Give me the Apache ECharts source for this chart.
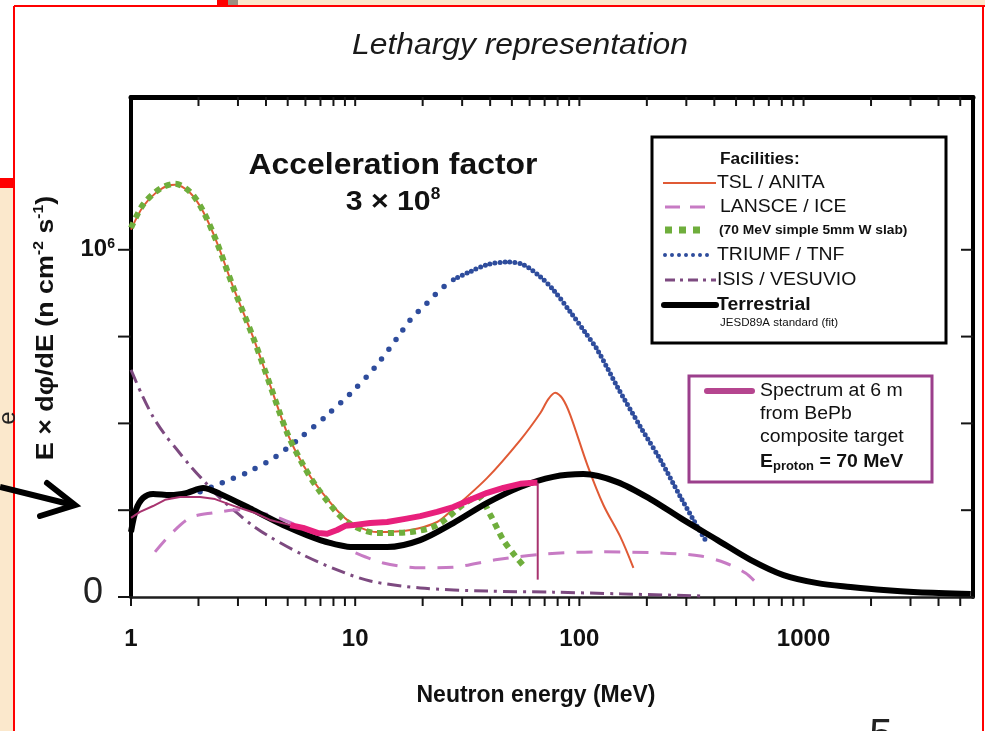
<!DOCTYPE html>
<html>
<head>
<meta charset="utf-8">
<script src="https://cdn.jsdelivr.net/npm/echarts@6/dist/echarts.min.js"></script>
<style>
  html, body { margin: 0; padding: 0; background: #ffffff; }
  #chart { width: 985px; height: 731px; }
</style>
</head>
<body>
<div id="chart"></div>
<script>
// Neutron spectra in lethargy representation: E × dφ/dE (units of 10^6 n cm^-2 s^-1) vs neutron energy (MeV)

const X_MIN = 1, X_MAX = 5700;
const Y_MIN = 0, Y_MAX = 1.44;

const xTickLabels = [1, 10, 100, 1000];
const yTickValues = [0, 0.25, 0.5, 0.75, 1];

// [energy MeV, flux ×10^6]
const tslAnita = [
  [1.0, 1.058], [1.131, 1.124], [1.347, 1.173], [1.572, 1.187], [1.834, 1.164], [2.096, 1.110],
  [2.42, 1.020], [2.854, 0.893], [3.50, 0.749], [4.17, 0.611], [4.97, 0.473], [5.86, 0.380],
  [6.98, 0.308], [9.21, 0.222], [12.54, 0.187], [17.6, 0.193], [23.2, 0.216], [27.4, 0.254],
  [38.8, 0.343], [54.5, 0.452], [67.0, 0.530], [72.7, 0.570], [78.1, 0.588], [84.0, 0.572],
  [91.1, 0.524], [108.6, 0.380], [128, 0.265], [152.4, 0.173], [174.2, 0.084]
];

const wSlab = [
  [1.0, 1.063], [1.131, 1.130], [1.347, 1.176], [1.572, 1.190], [1.834, 1.167], [2.096, 1.112],
  [2.42, 1.020], [2.854, 0.893], [3.50, 0.749], [4.17, 0.611], [4.97, 0.473], [5.86, 0.380],
  [6.98, 0.303], [9.21, 0.216], [12.54, 0.184], [17.6, 0.187], [23.2, 0.207], [30.98, 0.271],
  [35.4, 0.288], [40.1, 0.236], [45.8, 0.164], [51.8, 0.118], [57.4, 0.084]
];

const triumfLow = [
  [2.033, 0.303], [2.549, 0.329], [3.33, 0.360], [4.39, 0.403], [5.68, 0.458], [7.50, 0.524],
  [9.70, 0.591], [12.29, 0.663], [15.40, 0.746], [17.6, 0.798], [20.96, 0.847], [23.96, 0.885],
  [27.4, 0.914]
];
const triumfHigh = [
  [27.4, 0.914], [32.6, 0.937], [38.8, 0.957], [47.7, 0.965], [56.2, 0.957], [67.0, 0.922],
  [76.5, 0.885], [91.1, 0.821], [106.4, 0.761], [120.3, 0.712], [147.8, 0.605], [187.2, 0.490],
  [229.9, 0.395], [282.5, 0.288], [336.4, 0.202], [365.2, 0.164]
];

const lansceIce = [
  [1.280, 0.130], [1.493, 0.179], [1.834, 0.228], [2.299, 0.242], [3.066, 0.251], [4.17, 0.236],
  [5.68, 0.202], [7.73, 0.161], [9.80, 0.130], [13.34, 0.098], [19.51, 0.084], [27.4, 0.086],
  [42.2, 0.107], [70.5, 0.124], [124.1, 0.130], [229.9, 0.127], [346.9, 0.118], [448.6, 0.098],
  [550.8, 0.069], [610.6, 0.043]
];

const isisVesuvio = [
  [1.0, 0.654], [1.120, 0.582], [1.254, 0.519], [1.418, 0.467], [1.605, 0.424], [1.834, 0.378],
  [2.096, 0.337], [2.496, 0.285], [2.973, 0.242], [3.50, 0.205], [4.17, 0.173], [5.86, 0.121],
  [8.31, 0.078], [11.67, 0.046], [19.51, 0.026], [38.8, 0.017], [76.5, 0.014], [152.4, 0.009],
  [346.9, 0.003]
];

const terrestrial = [
  [1.0, 0.187], [1.053, 0.251], [1.131, 0.285], [1.254, 0.297], [1.493, 0.294], [1.778, 0.300],
  [2.096, 0.314], [2.496, 0.297], [3.50, 0.251], [4.97, 0.202], [6.98, 0.164], [9.80, 0.144],
  [13.89, 0.144], [19.51, 0.164], [27.4, 0.213], [38.8, 0.271], [54.5, 0.317], [76.5, 0.346],
  [104.2, 0.354], [147.8, 0.331], [207.5, 0.282], [291.3, 0.222], [413.2, 0.164], [580.0, 0.107],
  [814.3, 0.063], [1154.8, 0.040], [1621, 0.029], [2275, 0.020], [3228, 0.014], [5566, 0.009]
];

const bepbLow = [
  [1.0, 0.228], [1.097, 0.245], [1.254, 0.262], [1.418, 0.280], [1.654, 0.288], [2.033, 0.288],
  [2.371, 0.282], [2.973, 0.259], [3.58, 0.242], [4.17, 0.222], [5.13, 0.207]
];
const bepbHigh = [
  [5.13, 0.207], [5.86, 0.199], [6.84, 0.184], [7.50, 0.182], [8.31, 0.193], [9.03, 0.205],
  [9.80, 0.207], [11.67, 0.213], [13.89, 0.216], [16.72, 0.225], [19.51, 0.233], [23.2, 0.245],
  [27.4, 0.259], [32.6, 0.280], [38.8, 0.300], [45.8, 0.314], [54.5, 0.326], [62.3, 0.329],
  [65.0, 0.329]
];
const bepbCutoff = [[65.2, 0.329], [65.2, 0.05]];

const FONT = "'Liberation Sans', Arial, Helvetica, sans-serif";
const C = {
  tsl: '#e05a35', slab: '#6fae3c', triumf: '#2e4c9c', lansce: '#c77bc4',
  isis: '#7d4a80', terr: '#000000', bepbDark: '#a8336f', bepb: '#e8207c', bepbBox: '#9b3f8c'
};

// tick positions: 1..9 per decade on the log axis, quarter steps on the flux axis
const xTickPos = [];
[1, 10, 100, 1000].forEach(d => { for (let k = 1; k <= 9; k++) { if (k * d <= X_MAX) xTickPos.push(k * d); } });
const tickData = xTickPos.map(v => [v, Y_MIN, 0]).concat(yTickValues.map(v => [X_MIN, v, 1]));

const chart = echarts.init(document.getElementById('chart'), null, { renderer: 'canvas' });

function lineSeries(name, data, color, width, dash, smooth, cap) {
  return {
    name, type: 'line', data, showSymbol: false, symbol: 'none', smooth: smooth,
    lineStyle: { color, width, type: dash || 'solid', cap: cap || 'butt', join: 'round' },
    silent: true, clip: false
  };
}

function legendText(x, y, text, size, bold, stretch) {
  return {
    type: 'text', x, y, scaleX: stretch || 1.08,
    style: { text, fontFamily: FONT, fontSize: size, fontWeight: bold ? 'bold' : 'normal', fill: '#111', verticalAlign: 'middle' }
  };
}

const option = {
  animation: false,
  backgroundColor: '#ffffff',
  grid: { left: 131, right: 12, top: 97, bottom: 134 },
  xAxis: [
    {
      type: 'log', logBase: 10, min: X_MIN, max: X_MAX, position: 'bottom',
      axisLine: { show: true, onZero: false, lineStyle: { color: '#1e1e1e', width: 2.5 } },
      axisTick: { show: false }, splitLine: { show: false }, minorTick: { show: false },
      axisLabel: {
        margin: 30, color: '#111', fontFamily: FONT, fontSize: 24, fontWeight: 'bold',
        showMaxLabel: false,
        formatter: v => (xTickLabels.indexOf(Math.round(v)) >= 0 && Math.abs(v - Math.round(v)) < 1e-6) ? String(Math.round(v)) : ''
      },
      name: 'Neutron energy (MeV)', nameLocation: 'middle', nameGap: 87,
      nameTextStyle: { fontFamily: FONT, fontSize: 23, fontWeight: 'bold', color: '#111', padding: [0, 32, 0, 0] }
    },
    {
      type: 'log', logBase: 10, min: X_MIN, max: X_MAX, position: 'top',
      axisLine: { show: true, onZero: false, lineStyle: { color: '#000', width: 5 } },
      axisTick: { show: false }, axisLabel: { show: false }, splitLine: { show: false }
    }
  ],
  yAxis: [
    {
      type: 'value', min: Y_MIN, max: Y_MAX, interval: 0.25, position: 'left',
      axisLine: { show: true, onZero: false, lineStyle: { color: '#000', width: 4 } },
      axisTick: { show: false }, splitLine: { show: false },
      axisLabel: {
        margin: 16, showMaxLabel: false,
        formatter: v => v === 0 ? '{z|0}' : (Math.abs(v - 1) < 1e-9 ? '{b|10}{s|6}' : ''),
        rich: {
          z: { fontFamily: FONT, fontSize: 36, color: '#222', padding: [0, 12, 8, 0] },
          b: { fontFamily: FONT, fontSize: 24, fontWeight: 'bold', color: '#111', lineHeight: 26 },
          s: { fontFamily: FONT, fontSize: 14, fontWeight: 'bold', color: '#111', verticalAlign: 'top', lineHeight: 15 }
        }
      }
    },
    {
      type: 'value', min: Y_MIN, max: Y_MAX, interval: 0.25, position: 'right',
      axisLine: { show: true, onZero: false, lineStyle: { color: '#000', width: 4 } },
      axisTick: { show: false }, axisLabel: { show: false }, splitLine: { show: false }
    }
  ],
  series: [
    lineSeries('ISIS / VESUVIO', isisVesuvio, C.isis, 3, [14, 6, 3, 6], 0.3),
    lineSeries('LANSCE / ICE', lansceIce, C.lansce, 3, [16, 12], 0.3),
    lineSeries('TRIUMF / TNF', triumfLow, C.triumf, 5.5, [0, 12], 0.3, 'round'),
    lineSeries('TRIUMF / TNF', triumfHigh, C.triumf, 5, [0, 5], 0.3, 'round'),
    lineSeries('TSL / ANITA', tslAnita, C.tsl, 2, 'solid', 0.3),
    lineSeries('(70 MeV simple 5mm W slab)', wSlab, C.slab, 6, [6, 5], 0.3),
    lineSeries('Terrestrial', terrestrial, C.terr, 6, 'solid', 0.3),
    lineSeries('Spectrum at 6 m', bepbLow, C.bepbDark, 2, 'solid', false),
    lineSeries('Spectrum at 6 m', bepbHigh, C.bepb, 6, 'solid', false),
    lineSeries('Spectrum at 6 m', bepbCutoff, C.bepbDark, 2, 'solid', false),
    {
      type: 'custom', name: 'ticks', data: tickData, silent: true, clip: false, z: 10,
      renderItem: (params, api) => {
        const kind = api.value(2);
        const st = { stroke: '#151515', lineWidth: 2 };
        if (kind === 0) {
          const v = api.value(0);
          const b = api.coord([v, Y_MIN]);
          const t = api.coord([v, Y_MAX]);
          const kids = [{ type: 'line', shape: { x1: b[0], y1: b[1], x2: b[0], y2: b[1] + 9 }, style: st }];
          if (v > X_MIN) kids.push({ type: 'line', shape: { x1: t[0], y1: t[1], x2: t[0], y2: t[1] + 9 }, style: st });
          return { type: 'group', children: kids };
        }
        const v = api.value(1);
        const l = api.coord([X_MIN, v]);
        const r = api.coord([X_MAX, v]);
        return {
          type: 'group', children: [
            { type: 'line', shape: { x1: l[0] - 13, y1: l[1], x2: l[0], y2: l[1] }, style: st },
            { type: 'line', shape: { x1: r[0] - 12, y1: r[1], x2: r[0], y2: r[1] }, style: st }
          ]
        };
      }
    }
  ],
  graphic: [
    // slide frame
    { type: 'rect', z: -10, shape: { x: 0, y: 188, width: 13, height: 543 }, style: { fill: '#fbe8cc' } },
    { type: 'rect', z: -10, shape: { x: 238, y: 0, width: 747, height: 5 }, style: { fill: '#fbe8cc' } },
    { type: 'rect', z: -9, shape: { x: 0, y: 178, width: 15, height: 10 }, style: { fill: '#ff0000' } },
    { type: 'rect', z: -9, shape: { x: 217, y: 0, width: 11, height: 6 }, style: { fill: '#ff0000' } },
    { type: 'rect', z: -9, shape: { x: 228, y: 0, width: 10, height: 6 }, style: { fill: '#9a9080' } },
    { type: 'line', z: -9, shape: { x1: 14, y1: 6, x2: 14, y2: 731 }, style: { stroke: '#ff0000', lineWidth: 2 } },
    { type: 'line', z: -9, shape: { x1: 14, y1: 6, x2: 985, y2: 6 }, style: { stroke: '#ff0000', lineWidth: 2 } },
    { type: 'line', z: -9, shape: { x1: 983, y1: 6, x2: 983, y2: 731 }, style: { stroke: '#ff0000', lineWidth: 2 } },
    { type: 'text', z: -8, x: 8, y: 418, rotation: Math.PI / 2,
      style: { text: 'e', fontFamily: FONT, fontSize: 24, fill: '#222', align: 'center', verticalAlign: 'middle' } },
    { type: 'text', z: -8, x: 881, y: 715,
      style: { text: '5', fontFamily: FONT, fontSize: 42, fill: '#222', align: 'center', verticalAlign: 'top' } },
    // pointer arrow
    { type: 'polyline', z: 5, shape: { points: [[0, 487], [73, 505]] }, style: { stroke: '#000', lineWidth: 6, fill: null } },
    { type: 'polyline', z: 5, shape: { points: [[47, 483], [75, 505], [40, 516]] }, style: { stroke: '#000', lineWidth: 6, fill: null, lineJoin: 'miter', lineCap: 'round' } },

    // title
    { type: 'text', x: 520, y: 46, scaleX: 1.06,
      style: { text: 'Lethargy representation', fontFamily: FONT, fontStyle: 'italic', fontSize: 30, fill: '#1a1a1a', align: 'center', verticalAlign: 'middle' } },

    // y-axis title
    { type: 'text', x: 46, y: 328, rotation: Math.PI / 2, scaleX: 1.12,
      style: {
        text: '{a|E × dφ/dE (n cm}{s|-2}{a| s}{s|-1}{a|)}', align: 'center', verticalAlign: 'middle',
        rich: {
          a: { fontFamily: FONT, fontSize: 24, fontWeight: 'bold', fill: '#111', lineHeight: 28 },
          s: { fontFamily: FONT, fontSize: 14, fontWeight: 'bold', fill: '#111', verticalAlign: 'top', lineHeight: 15 }
        }
      } },

    // annotation
    { type: 'text', x: 393, y: 166, scaleX: 1.1,
      style: { text: 'Acceleration factor', fontFamily: FONT, fontSize: 29, fontWeight: 'bold', fill: '#111', align: 'center', verticalAlign: 'middle' } },
    { type: 'text', x: 393, y: 202, scaleX: 1.08,
      style: {
        text: '{a|3 × 10}{s|8}', align: 'center', verticalAlign: 'middle',
        rich: {
          a: { fontFamily: FONT, fontSize: 28, fontWeight: 'bold', fill: '#111', lineHeight: 30 },
          s: { fontFamily: FONT, fontSize: 16, fontWeight: 'bold', fill: '#111', verticalAlign: 'top', lineHeight: 16 }
        }
      } },

    // facilities legend
    {
      type: 'group', z: 50, children: [
        { type: 'rect', shape: { x: 652, y: 137, width: 294, height: 206 }, style: { fill: '#ffffff', stroke: '#000', lineWidth: 3 } },
        legendText(720, 160, 'Facilities:', 16, true),
        { type: 'line', shape: { x1: 663, y1: 183, x2: 716, y2: 183 }, style: { stroke: C.tsl, lineWidth: 2 } },
        legendText(717, 183, 'TSL / ANITA', 18),
        { type: 'line', shape: { x1: 665, y1: 207, x2: 707, y2: 207 }, style: { stroke: C.lansce, lineWidth: 3, lineDash: [15, 10] } },
        legendText(720, 207, 'LANSCE / ICE', 18),
        { type: 'line', shape: { x1: 665, y1: 230, x2: 702, y2: 230 }, style: { stroke: C.slab, lineWidth: 7, lineDash: [7, 7] } },
        legendText(719, 230, '(70 MeV simple 5mm W slab)', 13, true, 1.06),
        { type: 'line', shape: { x1: 665, y1: 255, x2: 714, y2: 255 }, style: { stroke: C.triumf, lineWidth: 4, lineDash: [0, 7], lineCap: 'round' } },
        legendText(717, 255, 'TRIUMF / TNF', 18),
        { type: 'line', shape: { x1: 665, y1: 280, x2: 716, y2: 280 }, style: { stroke: C.isis, lineWidth: 3, lineDash: [10, 5, 3, 5] } },
        legendText(717, 280, 'ISIS / VESUVIO', 18),
        { type: 'line', shape: { x1: 664, y1: 305, x2: 716, y2: 305 }, style: { stroke: '#000', lineWidth: 6, lineCap: 'round' } },
        legendText(717, 305, 'Terrestrial', 18, true),
        legendText(720, 323, 'JESD89A standard (fit)', 11, false, 1.05)
      ]
    },

    // BePb spectrum legend
    {
      type: 'group', z: 50, children: [
        { type: 'rect', shape: { x: 689, y: 376, width: 243, height: 106 }, style: { fill: '#ffffff', stroke: C.bepbBox, lineWidth: 3 } },
        { type: 'line', shape: { x1: 707, y1: 391, x2: 752, y2: 391 }, style: { stroke: '#b5458f', lineWidth: 6, lineCap: 'round' } },
        legendText(760, 391, 'Spectrum at 6 m', 18, false, 1.08),
        legendText(760, 414, 'from BePb', 18, false, 1.08),
        legendText(760, 437, 'composite target', 18, false, 1.08),
        { type: 'text', x: 760, y: 462, scaleX: 1.08,
          style: {
            text: '{b|E}{sub|proton}{b| = 70 MeV}', verticalAlign: 'middle',
            rich: {
              b: { fontFamily: FONT, fontSize: 18, fontWeight: 'bold', fill: '#111', lineHeight: 22 },
              sub: { fontFamily: FONT, fontSize: 12, fontWeight: 'bold', fill: '#111', verticalAlign: 'bottom', lineHeight: 12 }
            }
          } }
      ]
    }
  ]
};

chart.setOption(option);
</script>
</body>
</html>
